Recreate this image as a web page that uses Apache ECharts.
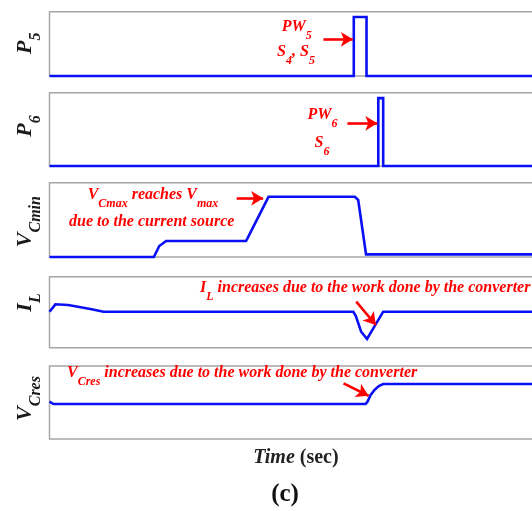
<!DOCTYPE html>
<html>
<head>
<meta charset="utf-8">
<script src="https://cdn.jsdelivr.net/npm/echarts@6/dist/echarts.min.js"></script>
<style>
  html, body { margin: 0; padding: 0; background: #ffffff; }
  #chart { width: 532px; height: 511px; }
</style>
</head>
<body>
<div id="chart"></div>
<script>
// Signal traces (time in arbitrary units 0..100, amplitude normalised)
const p5Time = [0, 62.1, 62.1, 64.7, 64.7, 100];
const p5Value = [0, 0, 1, 1, 0, 0];

const p6Time = [0, 67.1, 67.1, 68.1, 68.1, 100];
const p6Value = [0, 0, 1, 1, 0, 0];

const vcminTime = [0, 21.3, 22.4, 23.8, 40.1, 40.4, 44.7, 62.3, 63.0, 64.6, 100];
const vcminValue = [0, 0, 0.148, 0.215, 0.215, 0.25, 0.81, 0.81, 0.767, 0.036, 0.036];

const ilTime = [0, 1.2, 3.8, 5.8, 8.6, 11.0, 62.0, 62.5, 63.6, 64.8, 68.1, 100];
const ilValue = [0.507, 0.611, 0.601, 0.577, 0.541, 0.507, 0.507, 0.45, 0.225, 0.123, 0.507, 0.507];

const vcresTime = [0, 0.8, 64.5, 64.9, 65.5, 66.3, 67.2, 68.1, 100];
const vcresValue = [0.511, 0.479, 0.479, 0.511, 0.6, 0.67, 0.726, 0.753, 0.753];

// Annotation arrows: [tStart, vStart, tEnd, vEnd] per panel
const p5Arrow = [55.9, 0.622, 61.9, 0.622];
const p6Arrow = [60.8, 0.629, 66.9, 0.629];
const vcminArrow = [38.2, 0.79, 43.6, 0.79];
const ilArrow = [62.6, 0.648, 66.6, 0.32];
const vcresArrow = [60.0, 0.763, 65.1, 0.593];

const panelNames = ['P', 'P', 'V', 'I', 'V'];
const panelSubs = ['5', '6', 'Cmin', 'L', 'Cres'];

const BLUE = '#0a10f5';
const RED = '#ff0000';

const panels = [
  { top: 11.7, height: 64.3, ymax: 1.09, t: p5Time, v: p5Value, arrow: p5Arrow },
  { top: 92.7, height: 73.3, ymax: 1.08, t: p6Time, v: p6Value, arrow: p6Arrow },
  { top: 182.7, height: 74.3, ymax: 1, t: vcminTime, v: vcminValue, arrow: vcminArrow },
  { top: 276.7, height: 71, ymax: 1, t: ilTime, v: ilValue, arrow: ilArrow },
  { top: 366, height: 73, ymax: 1, t: vcresTime, v: vcresValue, arrow: vcresArrow }
];
const labelCenters = [43.3, 126, 221.6, 302.5, 398.5];

const zip = (ts, vs) => ts.map((t, i) => [t, vs[i]]);

const grid = [], xAxis = [], yAxis = [], series = [];
panels.forEach((p, i) => {
  grid.push({
    left: 49.5, top: p.top, width: 490, height: p.height,
    outerBoundsMode: 'none', containLabel: false,
    show: true, borderColor: '#a6a6a6', borderWidth: 1.5, backgroundColor: 'transparent'
  });
  xAxis.push({ type: 'value', gridIndex: i, min: 0, max: 100, show: false });
  yAxis.push({ type: 'value', gridIndex: i, min: 0, max: p.ymax, show: false });
  const a = p.arrow;
  series.push({
    type: 'line', xAxisIndex: i, yAxisIndex: i,
    data: zip(p.t, p.v),
    showSymbol: false, symbol: 'none', clip: false,
    lineStyle: { color: BLUE, width: 2.6, join: 'miter' },
    markLine: {
      silent: true, animation: false,
      symbol: ['none', 'arrow'], symbolSize: [11, 12],
      lineStyle: { color: RED, width: 2.6, type: 'solid' },
      label: { show: false },
      data: [[{ coord: [a[0], a[1]] }, { coord: [a[2], a[3]] }]]
    }
  });
});

// Text styles
const serif = 'Liberation Serif';
const ann = { fontFamily: serif, fontWeight: 'bold', fontStyle: 'italic', fontSize: 16, fill: RED };
const annSub = Object.assign({}, ann, { fontSize: 12, padding: [18, 0, 0, 0] });
const annRich = { b: ann, s: annSub };

function annText(x, y, text, align) {
  return {
    type: 'text', x: x, y: y, silent: true,
    style: Object.assign({}, ann, { text: text, rich: annRich, align: align || 'left', verticalAlign: 'middle' })
  };
}

const yl = { fontFamily: serif, fontWeight: 'bold', fontStyle: 'italic', fontSize: 22, fill: '#1a1a1a' };
const ylSub = Object.assign({}, yl, { fontSize: 16, padding: [22, 0, 0, 0] });

const graphics = [];
panelNames.forEach((n, i) => {
  graphics.push({
    type: 'text', x: 25, y: labelCenters[i], rotation: Math.PI / 2, silent: true,
    style: Object.assign({}, yl, {
      text: '{b|' + n + '}{s|' + panelSubs[i] + '}',
      rich: { b: yl, s: ylSub }, align: 'center', verticalAlign: 'middle'
    })
  });
});

graphics.push(annText(296.7, 26.7, '{b|PW}{s|5}', 'center'));
graphics.push(annText(296, 51.7, '{b|S}{s|4}{b|, S}{s|5}', 'center'));
graphics.push(annText(322.5, 115, '{b|PW}{s|6}', 'center'));
graphics.push(annText(322, 142.7, '{b|S}{s|6}', 'center'));
graphics.push(annText(153, 195, '{b|V}{s|Cmax}{b| reaches V}{s|max}', 'center'));
graphics.push(annText(151.7, 222.3, '{b|due to the current source}', 'center'));
graphics.push(annText(200, 287.5, '{b|I}{s|L}{b| increases due to the work done by the converter}', 'left'));
graphics.push(annText(67, 373.3, '{b|V}{s|Cres}{b| increases due to the work done by the converter}', 'left'));

const tl = { fontFamily: serif, fontWeight: 'bold', fontSize: 20, fill: '#222222' };
graphics.push({
  type: 'text', x: 296, y: 458, silent: true,
  style: Object.assign({}, tl, {
    text: '{a|Time}{b| (sec)}',
    rich: { a: Object.assign({}, tl, { fontStyle: 'italic' }), b: tl },
    align: 'center', verticalAlign: 'middle'
  })
});
graphics.push({
  type: 'text', x: 285, y: 495, silent: true,
  style: { text: '(c)', fontFamily: serif, fontWeight: 'bold', fontSize: 25, fill: '#111111', align: 'center', verticalAlign: 'middle' }
});

const chart = echarts.init(document.getElementById('chart'), null, { renderer: 'canvas' });
chart.setOption({
  animation: false,
  backgroundColor: '#ffffff',
  grid: grid, xAxis: xAxis, yAxis: yAxis, series: series,
  graphic: graphics
});
</script>
</body>
</html>
